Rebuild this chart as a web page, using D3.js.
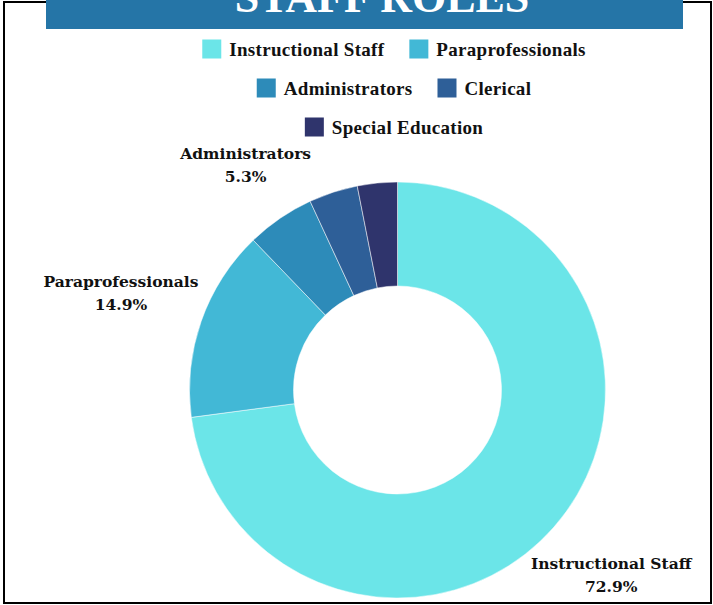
<!DOCTYPE html>
<html>
<head>
<meta charset="utf-8">
<script src="https://cdn.jsdelivr.net/npm/d3@7"></script>
<style>
  html, body { margin: 0; padding: 0; background: #fff; }
  svg { display: block; }
</style>
</head>
<body>
<svg id="chart" width="713" height="605"></svg>
<script>
const title = "STAFF ROLES";
const categories = ["Instructional Staff", "Paraprofessionals", "Administrators", "Clerical", "Special Education"];
const values = [72.9, 14.9, 5.3, 3.8, 3.1];
const colors = ["#6be5e8", "#42b8d6", "#2d8bb9", "#2e5f98", "#2f346c"];
const labelThreshold = 5;

const W = 713, H = 605;
const svg = d3.select("#chart");

// outer border
svg.append("rect").attr("x", 4).attr("y", 2).attr("width", 707).attr("height", 601)
  .attr("fill", "#fff").attr("stroke", "#000").attr("stroke-width", 2);

// title bar
svg.append("rect").attr("x", 46).attr("y", 0).attr("width", 637).attr("height", 29).attr("fill", "#2575a7");
svg.append("text").attr("x", 382).attr("y", 12).attr("text-anchor", "middle")
  .attr("font-family", "'Liberation Serif', 'DejaVu Serif', serif").attr("font-weight", "bold")
  .attr("font-size", 44).attr("fill", "#fff").text(title);

// legend
const rows = [[0, 1], [2, 3], [4]];
const rowY = [49, 88, 127];
const legendCx = 394;
const sq = 19, gapText = 8, gapItem = 25;
const legFont = "'Liberation Serif', 'Times New Roman', serif";
rows.forEach((row, ri) => {
  const g = svg.append("g");
  let x = 0;
  row.forEach((i, k) => {
    const it = g.append("g").attr("transform", `translate(${x},0)`);
    it.append("rect").attr("x", 0).attr("y", -sq / 2).attr("width", sq).attr("height", sq).attr("fill", colors[i]);
    const t = it.append("text").attr("x", sq + gapText).attr("y", 0).attr("dy", "0.35em")
      .attr("font-family", legFont).attr("font-weight", "bold").attr("font-size", 19)
      .attr("letter-spacing", 0.3)
      .attr("fill", "#111").text(categories[i]);
    x += sq + gapText + t.node().getComputedTextLength() + gapItem;
  });
  const total = x - gapItem;
  g.attr("transform", `translate(${legendCx - total / 2},${rowY[ri]})`);
});

// donut
const cx = 397.5, cy = 390, R = 208, r = 104;
const pie = d3.pie().sort(null).value(d => d.v);
const data = pie(categories.map((c, i) => ({ c, v: values[i], col: colors[i] })));
const arc = d3.arc().innerRadius(r).outerRadius(R);
const g = svg.append("g").attr("transform", `translate(${cx},${cy})`);
g.selectAll("path").data(data).join("path")
  .attr("d", arc).attr("fill", d => d.data.col)
  .attr("stroke", "#fff").attr("stroke-width", 0.5);

// labels
const lrx = 300, lry = 262;
const labFont = "'DejaVu Serif', serif";
data.filter(d => d.data.v >= labelThreshold).forEach(d => {
  const a = (d.startAngle + d.endAngle) / 2;
  const dx = Math.sin(a), dy = -Math.cos(a);
  const rr = 1 / Math.sqrt((dx / lrx) ** 2 + (dy / lry) ** 2);
  const lx = dx * rr + 2, ly = dy * rr;
  const t = g.append("text").attr("text-anchor", "middle")
    .attr("font-family", labFont).attr("font-weight", "bold").attr("font-size", 15.5)
    .attr("fill", "#111");
  t.append("tspan").attr("x", lx).attr("y", ly - 11.5).attr("dy", "0.35em").text(d.data.c);
  t.append("tspan").attr("x", lx).attr("y", ly + 11.5).attr("dy", "0.35em").text(d.data.v.toFixed(1) + "%");
});
</script>
</body>
</html>
